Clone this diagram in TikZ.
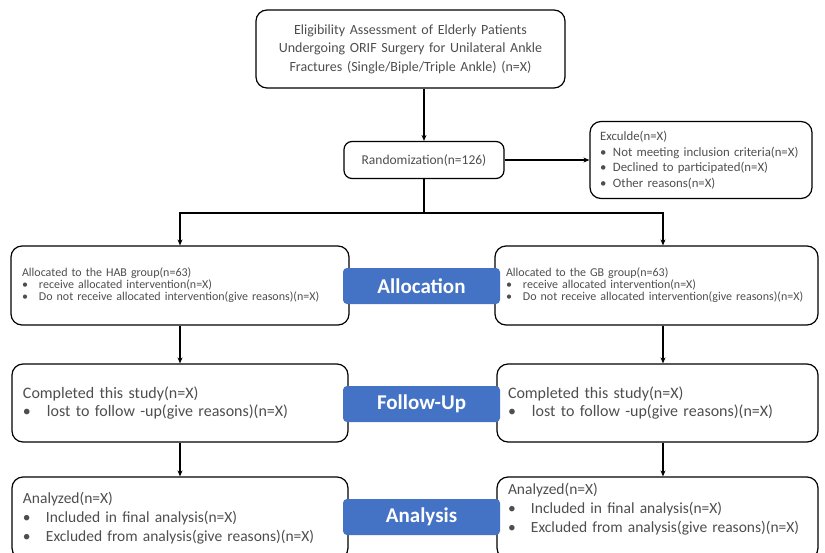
\documentclass[tikz,border=0pt]{standalone}
\usepackage{fontspec}
\setmainfont{Carlito}
\usetikzlibrary{arrows.meta,calc,positioning}
\definecolor{stageblue}{RGB}{68,114,196}
\definecolor{txtgray}{RGB}{78,78,78}
\newcommand{\bul}[2]{\makebox[#1][l]{\textbullet}#2}

\begin{document}
\begin{tikzpicture}[x=1pt,y=-1pt,>={Stealth[length=6pt,width=5pt]}]
\tikzstyle{box}=[draw, rounded corners=11pt, line width=1.2pt, text=txtgray, inner xsep=11pt, inner ysep=0pt]
\tikzstyle{arm}=[box, align=left, minimum height=79pt]
\tikzstyle{stage}=[fill=stageblue, rounded corners=4pt, text=white, minimum width=157pt, minimum height=36pt, font=\fontsize{21}{24}\selectfont\bfseries]
\tikzstyle{link}=[line width=1.2pt]

\useasboundingbox (0,0) rectangle (825,552);
\clip (0,0) rectangle (825,552);

%%%%%%%%%%%%%%%%%%%%%%%%%%%%%%
%%%%% ENROLMENT
\coordinate (elig) at (410.5,49);
\coordinate (rand) at (424,160);
\coordinate (excl) at (701,160);
\coordinate (split) at (424,213);

%%%%% ARMS
\coordinate (hab) at (180,285.5);
\coordinate (gb) at (656.5,285.5);
\coordinate (fuL) at (180,403);
\coordinate (fuR) at (657.5,403);
\coordinate (anL) at (180,518);
\coordinate (anR) at (657.5,518);

%%%%% COLUMNS
\coordinate (colL) at (180,0);
\coordinate (colR) at (663,0);

%%%%%%%%%%%%%%%
%%%%% CAJAS
\node[box, align=center, text width=287pt, minimum height=78pt, font=\fontsize{14}{18.5}\selectfont] (elig) at (elig)
  {Eligibility Assessment of Elderly Patients\\ Undergoing ORIF Surgery for Unilateral Ankle\\ Fractures (Single/Biple/Triple Ankle) (n=X)};
\node[box, rounded corners=8pt, minimum width=160pt, minimum height=37pt, font=\fontsize{13.5}{15}\selectfont] (rand) at (rand) {Randomization(n=126)};
\node[box, align=left, inner xsep=10pt, text width=202pt, minimum height=77pt, font=\fontsize{12.8}{15.5}\selectfont] (excl) at (excl)
  {Exculde(n=X)\\ \bul{13pt}{Not meeting inclusion criteria(n=X)}\\ \bul{13pt}{Declined to participated(n=X)}\\ \bul{13pt}{Other reasons(n=X)}};

%%%%% ALLOCATION
\node[arm, text width=316pt, font=\fontsize{12}{12}\selectfont] (hab) at (hab)
  {Allocated to the HAB group(n=63)\\ \bul{17pt}{receive allocated intervention(n=X)}\\ \bul{17pt}{Do not receive allocated intervention(give reasons)(n=X)}};
\node[arm, text width=301pt, font=\fontsize{12}{12}\selectfont] (gb) at (gb)
  {Allocated to the GB group(n=63)\\ \bul{17pt}{receive allocated intervention(n=X)}\\ \bul{17pt}{Do not receive allocated intervention(give reasons)(n=X)}};

%%%%% FOLLOW-UP
\node[arm, text width=314pt, minimum height=78pt, font=\fontsize{16}{18}\selectfont] (fuL) at (fuL)
  {Completed this study(n=X)\\ \bul{24pt}{lost to follow -up(give reasons)(n=X)}};
\node[arm, text width=299pt, minimum height=78pt, font=\fontsize{16}{18}\selectfont] (fuR) at (fuR)
  {Completed this study(n=X)\\ \bul{24pt}{lost to follow -up(give reasons)(n=X)}};

%%%%% ANALYSIS
\node[arm, text width=314pt, minimum height=82pt, font=\fontsize{15.5}{19}\selectfont] (anL) at (anL)
  {Analyzed(n=X)\\ \bul{23pt}{Included in final analysis(n=X)}\\ \bul{23pt}{Excluded from analysis(give reasons)(n=X)}};
\node[arm, text width=299pt, minimum height=82pt, text depth=58pt, font=\fontsize{15.5}{19}\selectfont] (anR) at (anR)
  {Analyzed(n=X)\\ \bul{23pt}{Included in final analysis(n=X)}\\ \bul{23pt}{Excluded from analysis(give reasons)(n=X)}};

%%%%%%%%%%%%%%%
%%%%% ETAPAS
\node[stage] (sAlloc) at (421.5,286) {Allocation};
\node[stage] (sFollow) at (421.5,404) {Follow-Up};
\node[stage] (sAnaly) at (421.5,517) {Analysis};

%%%%%%%%%%%%%%%
%%%%% CONEXIONES
\draw[link, ->] (elig.south -| rand) -- (rand);
\draw[link, ->] (rand) -- (excl);
\draw[link] (rand) -- (split);
\draw[link, ->] (split) -| (colL |- hab.north);
\draw[link, ->] (split) -| (colR |- gb.north);

\draw[link, ->] (colL |- hab.south) -- (colL |- fuL.north);
\draw[link, ->] (colR |- gb.south) -- (colR |- fuR.north);
\draw[link, ->] (colL |- fuL.south) -- (colL |- anL.north);
\draw[link, ->] (colR |- fuR.south) -- (colR |- anR.north);

\end{tikzpicture}
\end{document}
